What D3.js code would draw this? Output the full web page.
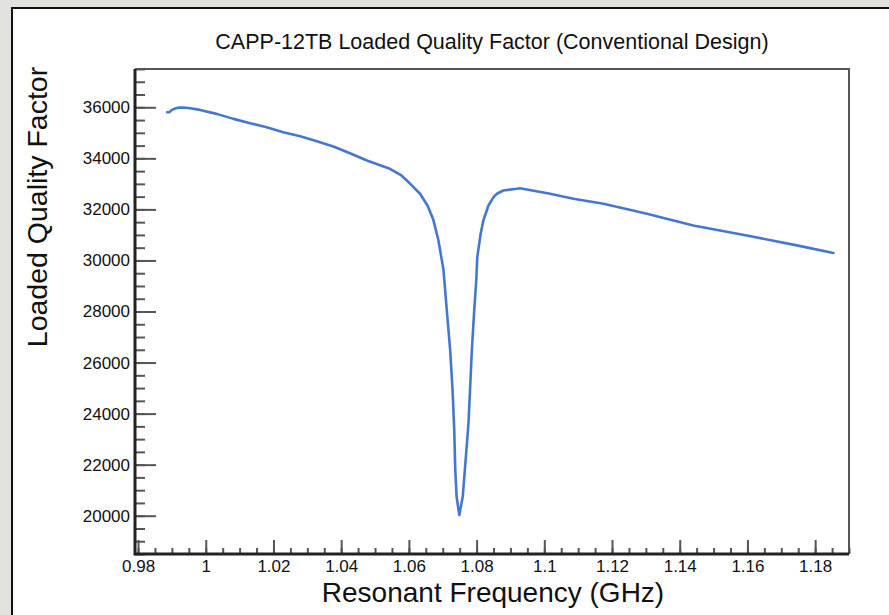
<!DOCTYPE html>
<html>
<head>
<meta charset="utf-8">
<script src="https://cdn.jsdelivr.net/npm/d3@7"></script>
<style>
  html, body { margin: 0; padding: 0; background: #e1e1dd; }
  svg { display: block; }
  text { font-family: "Liberation Sans", Arial, Helvetica, sans-serif; fill: #111; }
</style>
</head>
<body>
<svg id="chart" width="889" height="615"></svg>
<script>
// ---- Data ----
const freqGHz = [
  0.9886, 0.9893, 0.9899, 0.9909, 0.9919, 0.9934, 0.9949, 0.9983, 1.0032, 1.0082,
  1.0131, 1.0180, 1.0229, 1.0279, 1.0328, 1.0377, 1.0426, 1.0476, 1.0525, 1.0544,
  1.0578, 1.0604, 1.0633, 1.0655, 1.0672, 1.0687, 1.0702, 1.0712, 1.0722, 1.0729,
  1.0734, 1.0737, 1.0741, 1.0749, 1.0759, 1.0766, 1.0776, 1.0786, 1.0793, 1.0799,
  1.0802, 1.0812, 1.0820, 1.0835, 1.0850, 1.0860, 1.0879, 1.0919, 1.0928, 1.1017,
  1.1086, 1.1175, 1.1303, 1.1440, 1.1598, 1.1746, 1.1854
];
const loadedQ = [
  35805, 35810, 35890, 35950, 35985, 35990, 35975, 35898, 35742, 35546,
  35374, 35218, 35022, 34865, 34670, 34462, 34200, 33915, 33680, 33590,
  33328, 33003, 32612, 32150, 31600, 30800, 29650, 28046, 26480, 24916,
  23351, 21786, 20741, 20027, 20741, 21915, 23613, 26480, 28046, 29221,
  30131, 31045, 31566, 32154, 32479, 32612, 32740, 32808, 32830, 32612,
  32416, 32220, 31830, 31372, 30980, 30590, 30290
];
const xMajorTicks = [0.98, 1.00, 1.02, 1.04, 1.06, 1.08, 1.10, 1.12, 1.14, 1.16, 1.18];
const yMajorTicks = [20000, 22000, 24000, 26000, 28000, 30000, 32000, 34000, 36000];
const titleText = "CAPP-12TB Loaded Quality Factor (Conventional Design)";
const xTitle = "Resonant Frequency (GHz)";
const yTitle = "Loaded Quality Factor";

// ---- Layout ----
const svg = d3.select("#chart");
const plot = { left: 135, right: 849, top: 69, bottom: 554 };

// canvas (white pad with black border)
svg.append("rect").attr("x", 12).attr("y", 8).attr("width", 889).attr("height", 620)
  .attr("fill", "#fff").attr("stroke", "#111").attr("stroke-width", 2);

const x = d3.scaleLinear().domain([0.9791, 1.1900]).range([plot.left, plot.right]);
const y = d3.scaleLinear().domain([18500, 37500]).range([plot.bottom, plot.top]);

// frame (top/right lighter)
svg.append("path")
  .attr("d", `M${plot.left},${plot.top}H${plot.right}V${plot.bottom}`)
  .attr("fill", "none").attr("stroke", "#555").attr("stroke-width", 2);

// minor ticks
const xMinor = d3.range(0.98, 1.1901, 0.005).map(v => +v.toFixed(3));
const yMinor = d3.range(18500, 37501, 500);

const fmtX = d => String(+d.toFixed(2));

const xMinorAxis = d3.axisBottom(x).tickValues(xMinor).tickSizeInner(-6).tickSizeOuter(0).tickFormat("");
const xMajorAxis = d3.axisBottom(x).tickValues(xMajorTicks).tickSizeInner(-14).tickSizeOuter(0)
  .tickPadding(6).tickFormat(fmtX);
const yMinorAxis = d3.axisLeft(y).tickValues(yMinor).tickSizeInner(-10).tickSizeOuter(0).tickFormat("");
const yMajorAxis = d3.axisLeft(y).tickValues(yMajorTicks).tickSizeInner(-21).tickSizeOuter(0)
  .tickPadding(5).tickFormat(d3.format("d"));

function styleAxis(g) {
  g.select(".domain").remove();
  g.selectAll(".tick line").attr("stroke", "#555").attr("stroke-width", 2);
  g.selectAll(".tick text").style("font-size", "17px").attr("fill", "#111")
    .style("font-family", '"Liberation Sans", Arial, sans-serif');
}
function dropText(g) { g.selectAll(".tick text").remove(); }

svg.append("g").attr("transform", `translate(0,${plot.bottom})`).call(xMinorAxis).call(styleAxis).call(dropText);
svg.append("g").attr("transform", `translate(0,${plot.bottom})`).call(xMajorAxis).call(styleAxis);
svg.append("g").attr("transform", `translate(${plot.left},0)`).call(yMinorAxis).call(styleAxis).call(dropText);
svg.append("g").attr("transform", `translate(${plot.left},0)`).call(yMajorAxis).call(styleAxis);

// axis lines (left and bottom, darker and thicker)
svg.append("path")
  .attr("d", `M${plot.left},${plot.top}V${plot.bottom}H${plot.right}`)
  .attr("fill", "none").attr("stroke", "#222").attr("stroke-width", 3);

// curve
const line = d3.line().x((d, i) => x(freqGHz[i])).y(d => y(d)).curve(d3.curveLinear);
svg.append("path").datum(loadedQ).attr("d", line)
  .attr("fill", "none").attr("stroke", "#4577cf").attr("stroke-width", 2.6)
  .attr("stroke-linejoin", "round").attr("stroke-linecap", "round");

// titles
svg.append("text").attr("x", 492).attr("y", 49).attr("text-anchor", "middle")
  .style("font-size", "21.5px").text(titleText);
svg.append("text").attr("x", 493).attr("y", 602).attr("text-anchor", "middle")
  .style("font-size", "28px").text(xTitle);
svg.append("text").attr("transform", `translate(47,207) rotate(-90)`).attr("text-anchor", "middle")
  .style("font-size", "28.5px").text(yTitle);
</script>
</body>
</html>
